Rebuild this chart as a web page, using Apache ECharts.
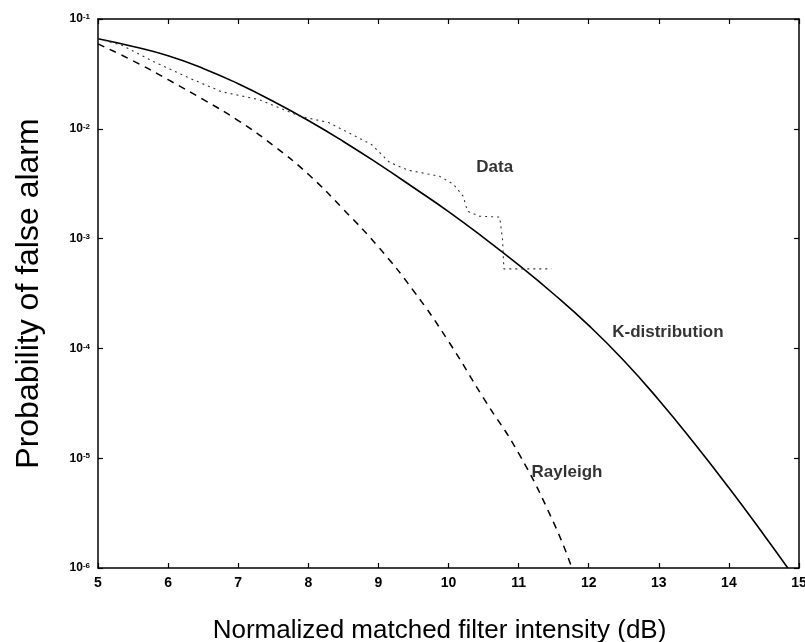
<!DOCTYPE html>
<html><head><meta charset="utf-8">
<script src="https://cdn.jsdelivr.net/npm/echarts@6/dist/echarts.min.js"></script>
<style>html,body{margin:0;padding:0;background:#fff}#c{width:805px;height:642px}</style>
</head><body><div id="c"></div>
<script>
// K-distribution (solid)
const kX = [5, 5.5, 6, 6.5, 7, 7.5, 8, 8.5, 9, 9.5, 10, 10.5, 11, 11.5, 12, 12.5, 13, 13.5, 14, 14.5, 14.84];
const kY = [0.0661, 0.0562, 0.0462, 0.0355, 0.0257, 0.0178, 0.0119, 0.00767, 0.00479, 0.00292, 0.00176, 0.00102,
            5.75e-4, 3.13e-4, 1.62e-4, 7.76e-5, 3.39e-5, 1.38e-5, 5.37e-6, 2.0e-6, 1.0e-6];
// Rayleigh (dashed)
const rayX = [5, 5.5, 6, 6.5, 7, 7.5, 8, 8.5, 9, 9.5, 10, 10.5, 11, 11.5, 11.76];
const rayY = [0.0593, 0.0416, 0.0280, 0.0185, 0.0119, 0.00706, 0.00385, 0.00185, 8.39e-4, 3.35e-4, 1.16e-4,
              3.52e-5, 1.11e-5, 2.59e-6, 1.0e-6];
// Measured data (dotted)
const dataX = [5, 5.33, 5.8, 6.29, 6.76, 7.3, 7.9, 8.29, 8.9, 9.16, 9.43, 9.87, 10.07, 10.21, 10.27, 10.44, 10.73, 10.77, 10.79, 11.47];
const dataY = [0.066, 0.0581, 0.0407, 0.0292, 0.0218, 0.0184, 0.0129, 0.0114, 0.00721, 0.00494, 0.00419, 0.00370,
               0.00313, 0.00243, 0.00178, 0.00160, 0.00157, 9.91e-4, 5.3e-4, 5.3e-4];
// axis ranges / ticks
const xMin = 5, xMax = 15, xStep = 1;
const yMin = 1e-6, yMax = 1e-1;
// curve annotations (in data coordinates)
const annoText = ['Data', 'K-distribution', 'Rayleigh'];
const annoX = [10.66, 13.13, 11.69];
const annoY = [0.00449, 1.40e-4, 7.4e-6];

const FONT = 'Liberation Sans, Arial, Helvetica, sans-serif';
const zip = (xs, ys) => xs.map((x, i) => [x, ys[i]]);

const chart = echarts.init(document.getElementById('c'), null, {renderer: 'canvas'});
const axisLine = {show: true, onZero: false, lineStyle: {color: '#000', width: 1.5}};
const tick = {show: true, inside: true, length: 5, lineStyle: {color: '#000', width: 1.2}};
const xBase = {type: 'value', min: xMin, max: xMax, interval: xStep, axisLine, axisTick: tick, splitLine: {show: false}};
const yBase = {type: 'log', logBase: 10, min: yMin, max: yMax, axisLine, axisTick: tick, splitLine: {show: false}, minorTick: {show: false}};

chart.setOption({
  animation: false,
  backgroundColor: '#fff',
  grid: {left: 98, right: 6, top: 19, bottom: 74, containLabel: false, outerBoundsMode: 'none'},
  xAxis: [
    Object.assign({}, xBase, {
      position: 'bottom',
      axisLabel: {color: '#000', fontFamily: FONT, fontWeight: 'bold', fontSize: 14, margin: 8},
      name: 'Normalized matched filter intensity (dB)', nameLocation: 'middle', nameGap: 50,
      nameTextStyle: {color: '#000', fontFamily: FONT, fontSize: 26, padding: [0, 18, 0, 0]}
    }),
    Object.assign({}, xBase, {position: 'top', axisLabel: {show: false}})
  ],
  yAxis: [
    Object.assign({}, yBase, {
      position: 'left',
      axisLabel: {
        margin: 8,
        formatter: v => '{b|10}{s|' + Math.round(Math.log10(v)) + '}',
        rich: {
          b: {fontFamily: FONT, fontWeight: 'bold', fontSize: 12, color: '#000'},
          s: {fontFamily: FONT, fontWeight: 'bold', fontSize: 8, color: '#000', verticalAlign: 'top'}
        }
      },
      name: 'Probability of false alarm', nameLocation: 'middle', nameGap: 53, nameRotate: 90,
      nameTextStyle: {color: '#000', fontFamily: FONT, fontSize: 32}
    }),
    Object.assign({}, yBase, {position: 'right', axisLabel: {show: false}})
  ],
  series: [
    {name: 'K-distribution', type: 'line', data: zip(kX, kY), smooth: 0.5, showSymbol: false,
     lineStyle: {color: '#000', width: 1.6}},
    {name: 'Rayleigh', type: 'line', data: zip(rayX, rayY), smooth: 0.5, showSymbol: false,
     lineStyle: {color: '#000', width: 1.5, type: [7, 6]}},
    {name: 'Data', type: 'line', data: zip(dataX, dataY), showSymbol: false,
     lineStyle: {color: '#333', width: 1.1, type: [2, 4]}},
    {name: 'labels', type: 'scatter', silent: true, symbolSize: 0,
     data: annoX.map((x, i) => [x, annoY[i], annoText[i]]),
     label: {show: true, position: 'inside', formatter: p => p.data[2], color: '#000', fontFamily: FONT,
             fontWeight: 'bold', fontSize: 17}}
  ]
});
</script></body></html>
